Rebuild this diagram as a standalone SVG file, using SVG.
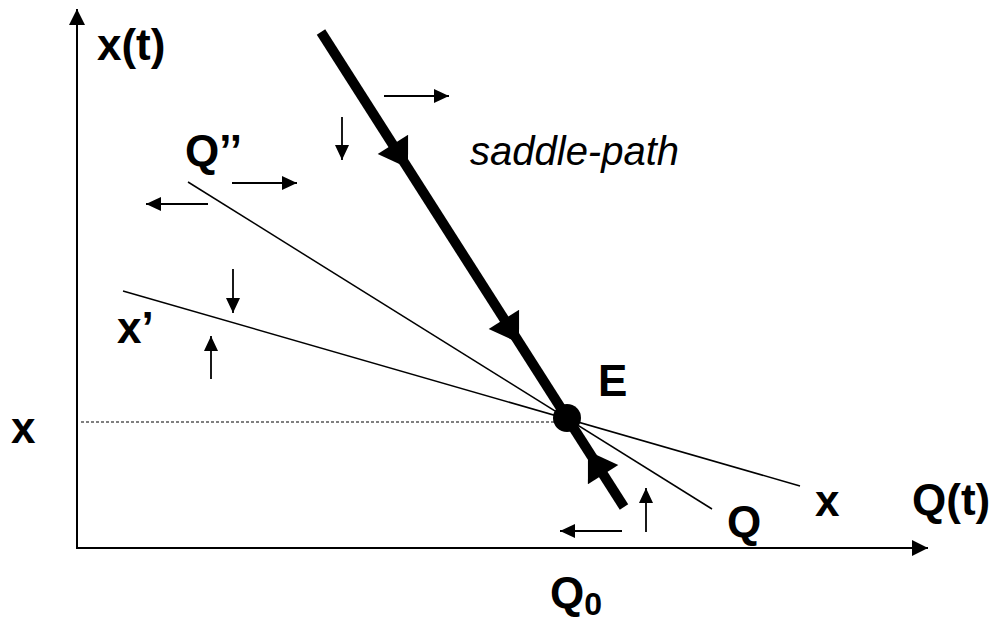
<svg xmlns="http://www.w3.org/2000/svg" width="996" height="621" viewBox="0 0 996 621">
<style>
.lbl{font-family:"Liberation Sans",Arial,sans-serif;font-weight:bold;font-size:44px;fill:#000}
.it{font-family:"Liberation Sans",Arial,sans-serif;font-style:italic;font-size:40px;fill:#000}
.ax{stroke:#000;stroke-width:2;fill:none}
.thin{stroke:#000;stroke-width:1.5;fill:none}
.sm{stroke:#000;stroke-width:1.8;fill:none}
</style>
<defs>
<marker id="axh" viewBox="0 0 16 16" refX="16" refY="8" markerWidth="16" markerHeight="16" markerUnits="userSpaceOnUse" orient="auto">
<path d="M0,0 L16,8 L0,16 z" fill="#000"/>
</marker>
<marker id="ah" viewBox="0 0 15 14" refX="15" refY="7" markerWidth="15" markerHeight="14" markerUnits="userSpaceOnUse" orient="auto">
<path d="M0,0 L15,7 L0,14 z" fill="#000"/>
</marker>
</defs>
<rect width="996" height="621" fill="#fff"/>
<g id="axes">
<line class="ax" x1="77" y1="549" x2="77" y2="9" marker-end="url(#axh)"/>
<line class="ax" x1="76" y1="548" x2="928" y2="548" marker-end="url(#axh)"/>
</g>
<g id="connectors">
<line x1="81" y1="422" x2="555" y2="422" stroke="#000" stroke-width="1" stroke-dasharray="3,2"/>
<line class="thin" x1="188" y1="182" x2="712" y2="509"/>
<line class="thin" x1="123" y1="291" x2="800" y2="486"/>
<line x1="321" y1="32" x2="624" y2="507" stroke="#000" stroke-width="10"/>
<polygon points="408,168 408.1,134.7 377.7,154.1" fill="#000"/>
<polygon points="519,343 519.1,309.7 488.7,329.1" fill="#000"/>
<polygon points="588,451 618.3,464.9 587.9,484.3" fill="#000"/>
<line class="sm" x1="384" y1="96" x2="449" y2="96" marker-end="url(#ah)"/>
<line class="sm" x1="342" y1="117" x2="342" y2="160" marker-end="url(#ah)"/>
<line class="sm" x1="232" y1="183" x2="297" y2="183" marker-end="url(#ah)"/>
<line class="sm" x1="208" y1="204" x2="146" y2="204" marker-end="url(#ah)"/>
<line class="sm" x1="233" y1="269" x2="233" y2="313" marker-end="url(#ah)"/>
<line class="sm" x1="211" y1="379" x2="211" y2="336" marker-end="url(#ah)"/>
<line class="sm" x1="622" y1="531" x2="560" y2="531" marker-end="url(#ah)"/>
<line class="sm" x1="646" y1="532" x2="646" y2="488" marker-end="url(#ah)"/>
</g>
<g id="E">
<circle cx="567" cy="418" r="14" fill="#000"/>
<text class="lbl" x="598" y="396">E</text>
</g>
<g id="labels">
<text class="lbl" x="97" y="60">x(t)</text>
<text class="lbl" x="185" y="166">Q’’</text>
<text class="it" x="470" y="165">saddle-path</text>
<text class="lbl" x="117" y="343">x’</text>
<text class="lbl" x="11" y="443">x</text>
<text class="lbl" x="815" y="516">x</text>
<text class="lbl" x="912" y="515">Q(t)</text>
<text class="lbl" x="727" y="537">Q</text>
<text class="lbl" x="550" y="608">Q<tspan font-size="32" dy="7">0</tspan></text>
</g>
</svg>
